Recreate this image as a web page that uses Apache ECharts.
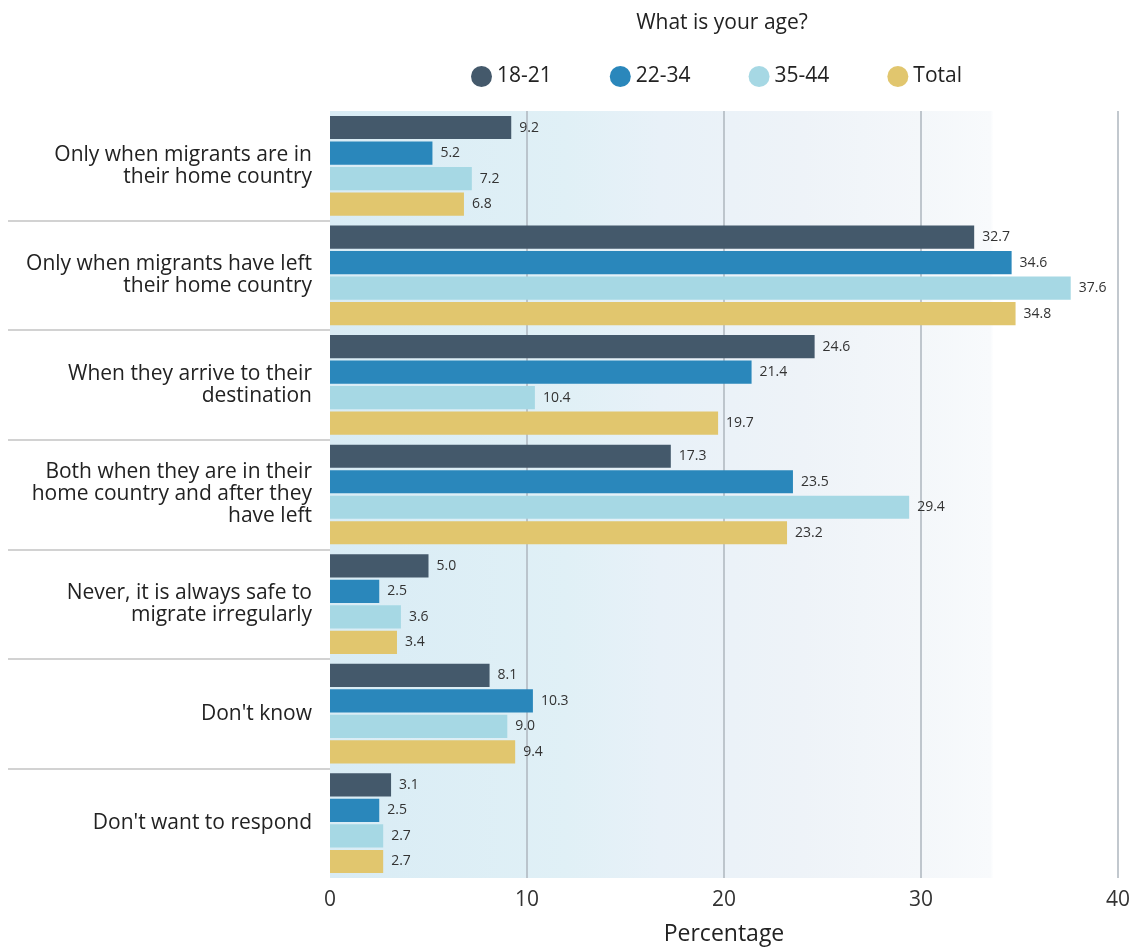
<!DOCTYPE html>
<html>
<head>
<meta charset="utf-8">
<script src="https://cdn.jsdelivr.net/npm/echarts@6/dist/echarts.min.js"></script>
<style>
html,body{margin:0;padding:0;background:#fff;}
#chart{width:1138px;height:948px;}
</style>
</head>
<body>
<div id="chart"></div>
<script>
const categories = [
  "Only when migrants are in\ntheir home country",
  "Only when migrants have left\ntheir home country",
  "When they arrive to their\ndestination",
  "Both when they are in their\nhome country and after they\nhave left",
  "Never, it is always safe to\nmigrate irregularly",
  "Don't know",
  "Don't want to respond"
];
const seriesNames = ["18-21", "22-34", "35-44", "Total"];
const age18_21 = [9.2, 32.7, 24.6, 17.3, 5.0, 8.1, 3.1];
const age22_34 = [5.2, 34.6, 21.4, 23.5, 2.5, 10.3, 2.5];
const age35_44 = [7.2, 37.6, 10.4, 29.4, 3.6, 9.0, 2.7];
const total    = [6.8, 34.8, 19.7, 23.2, 3.4, 9.4, 2.7];
const xTicks = [0, 10, 20, 30, 40];
const colors = ["#44596b", "#2a87bb", "#a6d8e4", "#e1c66e"];

const FONT = "Open Sans";
const chart = echarts.init(document.getElementById('chart'), null, {renderer: 'canvas'});
const dataSets = [age18_21, age22_34, age35_44, total];

const barSeries = dataSets.map((d, i) => ({
  name: seriesNames[i],
  type: 'bar',
  data: d,
  xAxisIndex: 0,
  yAxisIndex: 0,
  itemStyle: {color: colors[i]},
  barCategoryGap: '9%',
  barGap: '10%',
  label: {
    show: true,
    position: 'right',
    distance: 8,
    fontFamily: FONT,
    fontSize: 14,
    color: '#333',
    formatter: p => Number(p.value).toFixed(1)
  }
}));

chart.setOption({
  animation: false,
  textStyle: {fontFamily: FONT},
  title: {
    text: 'What is your age?',
    left: 717,
    top: 8,
    textAlign: 'center',
    textStyle: {fontFamily: FONT, fontSize: 21, fontWeight: 'normal', color: '#222'}
  },
  legend: {
    data: seriesNames,
    left: 466,
    top: 61,
    icon: 'circle',
    itemWidth: 21,
    itemHeight: 21,
    itemGap: 58,
    textStyle: {fontFamily: FONT, fontSize: 21, color: '#222'}
  },
  grid: [
    {
      left: 330, right: 20, top: 111, bottom: 70,
      outerBoundsMode: 'none',
      containLabel: false,
      show: true,
      borderWidth: 0,
      backgroundColor: new echarts.graphic.LinearGradient(0, 0, 1, 0, [
        {offset: 0, color: '#d9ecf5'},
        {offset: 0.3, color: '#e0f0f6'},
        {offset: 0.42, color: '#e8f1f8'},
        {offset: 0.6, color: '#eef3f8'},
        {offset: 0.75, color: '#f4f7fa'},
        {offset: 0.838, color: '#f8fafc'},
        {offset: 0.842, color: '#ffffff'},
        {offset: 1, color: '#ffffff'}
      ])
    },
    {left: 8, width: 322, top: 111, bottom: 70, outerBoundsMode: 'none', containLabel: false}
  ],
  xAxis: [
    {
      type: 'value',
      gridIndex: 0,
      min: 0, max: 40, interval: 10,
      name: 'Percentage',
      nameLocation: 'middle',
      nameGap: 45,
      nameTextStyle: {fontFamily: FONT, fontSize: 23, color: '#222'},
      axisLine: {show: false},
      axisTick: {show: false},
      axisLabel: {fontFamily: FONT, fontSize: 21, color: '#333', margin: 12,
        formatter: v => xTicks.includes(v) ? String(v) : ''},
      splitLine: {show: true, showMinLine: false, lineStyle: {color: '#aeb6be', width: 1.5}}
    },
    {type: 'value', gridIndex: 1, min: 0, max: 1, show: false}
  ],
  yAxis: [
    {
      type: 'category',
      gridIndex: 0,
      data: categories,
      inverse: true,
      axisLine: {show: false},
      axisTick: {show: false},
      splitLine: {show: false},
      axisLabel: {fontFamily: FONT, fontSize: 21, color: '#222', margin: 18, lineHeight: 22, align: 'right'}
    },
    {
      type: 'value',
      gridIndex: 1,
      min: 0, max: 7, interval: 1,
      axisLine: {show: false},
      axisTick: {show: false},
      axisLabel: {show: false},
      splitLine: {show: true, showMinLine: false, showMaxLine: false, lineStyle: {color: '#d2d2d2', width: 2}}
    }
  ],
  series: barSeries.concat([{
    type: 'scatter', xAxisIndex: 1, yAxisIndex: 1, data: [], silent: true
  }])
});
</script>
</body>
</html>
